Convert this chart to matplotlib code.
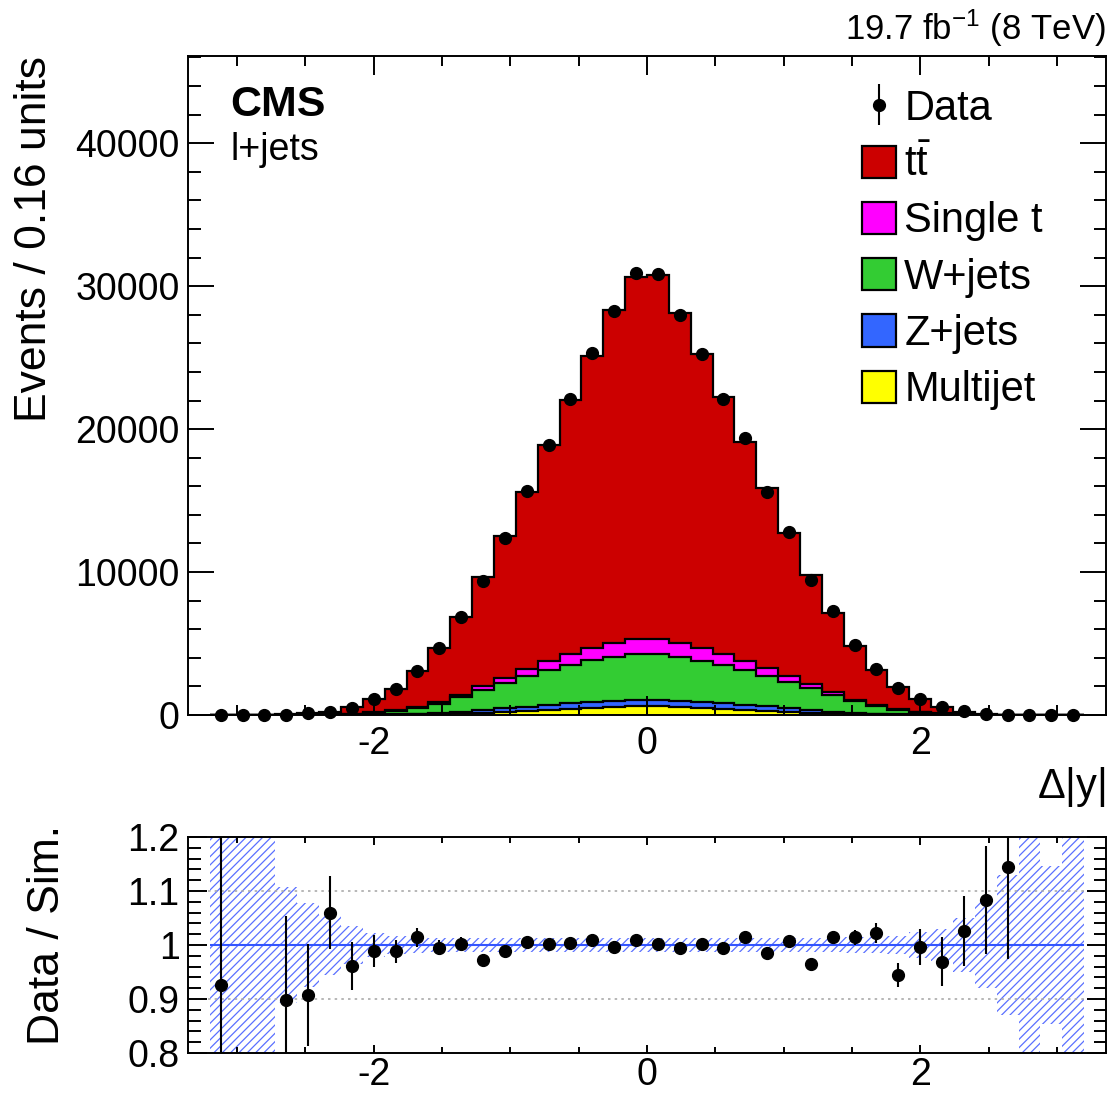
import numpy as np
import matplotlib
matplotlib.use("Agg")
import matplotlib.pyplot as plt
from matplotlib.patches import Patch
from matplotlib.ticker import MultipleLocator

plt.rcParams['font.family'] = ['Liberation Sans', 'DejaVu Sans']
plt.rcParams['mathtext.fontset'] = 'custom'
plt.rcParams['mathtext.rm'] = 'Liberation Sans'
plt.rcParams['mathtext.it'] = 'Liberation Sans:italic'
plt.rcParams['mathtext.bf'] = 'Liberation Sans:bold'
plt.rcParams['axes.unicode_minus'] = False
plt.rcParams['hatch.linewidth'] = 0.9

# 40 bins of 0.16 in delta|y|
bin_lo, bin_w, nbins = -3.2, 0.16, 40
edges = np.round(bin_lo + bin_w * np.arange(nbins + 1), 2)
centers = 0.5 * (edges[:-1] + edges[1:])

data = [3, 0, 0, 35, 110, 230, 520, 1090, 1800, 3100,
        4660, 6870, 9370, 12360, 15690, 18880, 22100, 25360, 28250, 30930,
        30820, 28000, 25280, 22140, 19350, 15620, 12820, 9440, 7250, 4920,
        3220, 1860, 1120, 560, 250, 100, 35, 0, 0, 0]
ttbar = [3, 1, 1, 33, 106, 172, 446, 912, 1487, 2492,
         3763, 5446, 7640, 9890, 12392, 15091, 17774, 20434, 23295, 25364,
         25439, 23071, 20575, 18011, 15323, 12588, 10011, 7643, 5570, 3767,
         2441, 1553, 894, 463, 194, 71, 23, 1, 0, 1]
single_t = [0, 0, 0, 1, 2, 5, 15, 30, 50, 80,
            120, 180, 270, 380, 500, 620, 740, 860, 960, 1040,
            1060, 980, 880, 760, 640, 520, 400, 290, 200, 130,
            85, 50, 30, 15, 5, 2, 1, 0, 0, 0]
wjets = [0, 0, 2, 5, 10, 30, 60, 120, 220, 380,
         650, 1000, 1400, 1780, 2130, 2440, 2700, 2930, 3100, 3220,
         3250, 3100, 2880, 2650, 2400, 2150, 1850, 1520, 1150, 800,
         520, 300, 160, 80, 35, 15, 6, 2, 1, 0]
zjets = [0, 0, 0, 0, 2, 5, 10, 20, 35, 55,
         80, 120, 170, 230, 290, 340, 380, 400, 410, 420,
         420, 410, 400, 380, 340, 290, 230, 170, 120, 80,
         55, 35, 20, 10, 5, 2, 1, 0, 0, 0]
multijet = [0, 0, 0, 0, 1, 5, 10, 20, 30, 50,
            70, 110, 160, 230, 300, 370, 440, 510, 570, 610,
            620, 580, 520, 450, 380, 310, 240, 170, 110, 75,
            50, 30, 20, 10, 5, 2, 0, 0, 0, 0]

nan = np.nan
ratio = [0.925, nan, nan, 0.898, 0.907, 1.060, 0.961, 0.989, 0.988, 1.014,
         0.995, 1.002, 0.972, 0.988, 1.005, 1.001, 1.003, 1.009, 0.997, 1.009,
         1.001, 0.995, 1.001, 0.995, 1.014, 0.985, 1.007, 0.964, 1.014, 1.014,
         1.022, 0.945, 0.996, 0.969, 1.026, 1.084, 1.144, nan, nan, nan]
ratio_err = [1.0, 0, 0, 0.155, 0.095, 0.068, 0.045, 0.03, 0.022, 0.018,
             0.014, 0.012, 0.01, 0.009, 0.008, 0.007, 0.007, 0.006, 0.006, 0.006,
             0.006, 0.006, 0.006, 0.007, 0.007, 0.008, 0.009, 0.01, 0.012, 0.014,
             0.018, 0.022, 0.033, 0.045, 0.065, 0.10, 0.17, 0, 0, 0]
# simulation uncertainty (half width of hatched band)
band = [1.0, 1.0, 1.0, 0.107, 0.078, 0.055, 0.035, 0.022, 0.016, 0.014,
        0.013, 0.013, 0.013, 0.013, 0.013, 0.013, 0.013, 0.013, 0.013, 0.013,
        0.013, 0.013, 0.013, 0.013, 0.013, 0.013, 0.013, 0.013, 0.013, 0.014,
        0.015, 0.016, 0.024, 0.03, 0.05, 0.08, 0.13, 1.0, 0.146, 1.0]

labels = ['Multijet', 'Z+jets', 'W+jets', 'Single t', r'$\mathrm{t\bar{t}}$']
colors = ['#ffff00', '#3366ff', '#33cc33', '#ff00ff', '#cc0000']

fig = plt.figure(figsize=(11.13, 10.94), dpi=100)
ax = fig.add_axes([0.1689, 0.3464, 0.8248, 0.6024])
ax2 = fig.add_axes([0.1689, 0.0375, 0.8248, 0.1974])

#%% main panel
stack = np.cumsum(np.vstack([multijet, zjets, wjets, single_t, ttbar]), axis=0)
for level, col in zip(stack[::-1], colors[::-1]):
    ax.stairs(level, edges, fill=True, facecolor=col, edgecolor='black', linewidth=1.6)

data = np.array(data, dtype=float)
eb = ax.errorbar(centers, data, yerr=np.sqrt(data), fmt='o', color='black', ms=8.5,
                 elinewidth=1.5, capsize=0, zorder=5, clip_on=False)

ax.set_xlim(-3.36, 3.36)
ax.set_ylim(0, 46100)
ax.xaxis.set_major_locator(MultipleLocator(2))
ax.xaxis.set_minor_locator(MultipleLocator(0.5))
ax.yaxis.set_major_locator(MultipleLocator(10000))
ax.yaxis.set_minor_locator(MultipleLocator(2000))
ax.tick_params(which='both', direction='in', top=True, right=True, labelsize=27, width=1.4)
ax.tick_params(axis='y', which='major', length=19, pad=6)
ax.tick_params(axis='y', which='minor', length=9)
ax.tick_params(axis='x', which='major', length=14, pad=8)
ax.tick_params(axis='x', which='minor', length=7)
for s in ax.spines.values():
    s.set_linewidth(1.4)

ax.set_ylabel('Events / 0.16 units', fontsize=32, loc='top')
ax.yaxis.set_label_coords(-0.145, 1.0)
ax.text(1.0, -0.109, r'$\Delta$|y|', transform=ax.transAxes, ha='right', va='center', fontsize=30)
ax.text(0.046, 0.925, 'CMS', transform=ax.transAxes, ha='left', va='center',
        fontsize=31, fontweight='bold')
ax.text(0.046, 0.858, 'l+jets', transform=ax.transAxes, ha='left', va='center', fontsize=27)
ax.text(1.0, 1.024, r'19.7 fb$^{-1}$ (8 TeV)', transform=ax.transAxes, ha='right',
        va='baseline', fontsize=25)

handles = [eb] + [Patch(facecolor=c, edgecolor='black', linewidth=1.6) for c in colors[::-1]]
ax.legend(handles, ['Data'] + labels[::-1], loc='upper left', bbox_to_anchor=(0.734, 0.950),
          frameon=False, fontsize=30, handlelength=0.82, handleheight=0.82,
          handletextpad=0.2, labelspacing=0.39, borderpad=0, borderaxespad=0)

#%% ratio panel
band = np.array(band)
ax2.stairs(1 + band, edges, baseline=1 - band, fill=True, facecolor='none',
           edgecolor='#5a70ff', linewidth=0, hatch='////')
ax2.hlines(1.0, edges[0], edges[-1], color='#3355ff', linewidth=1.5, zorder=3)
for yv in (0.9, 1.1):
    ax2.axhline(yv, color='#aaaaaa', linestyle=(0, (1.5, 2.5)), linewidth=1.2, zorder=1)
ax2.errorbar(centers, ratio, yerr=ratio_err, fmt='o', color='black', ms=8.5,
             elinewidth=1.5, capsize=0, zorder=5)

ax2.set_xlim(-3.36, 3.36)
ax2.set_ylim(0.8, 1.2)
ax2.xaxis.set_major_locator(MultipleLocator(2))
ax2.xaxis.set_minor_locator(MultipleLocator(0.5))
ax2.yaxis.set_minor_locator(MultipleLocator(0.02))
ax2.set_yticks([0.8, 0.9, 1.0, 1.1, 1.2])
ax2.set_yticklabels(['0.8', '0.9', '1', '1.1', '1.2'])
ax2.tick_params(which='both', direction='in', top=True, right=True, labelsize=27, width=1.4)
ax2.tick_params(axis='y', which='major', length=14, pad=6)
ax2.tick_params(axis='y', which='minor', length=9)
ax2.tick_params(axis='x', which='major', length=6, pad=3)
ax2.tick_params(axis='x', which='minor', length=4)
for s in ax2.spines.values():
    s.set_linewidth(1.4)
ax2.set_ylabel('Data / Sim.', fontsize=32)
ax2.yaxis.set_label_coords(-0.131, 0.546)

fig.savefig('out.png', dpi=100)
